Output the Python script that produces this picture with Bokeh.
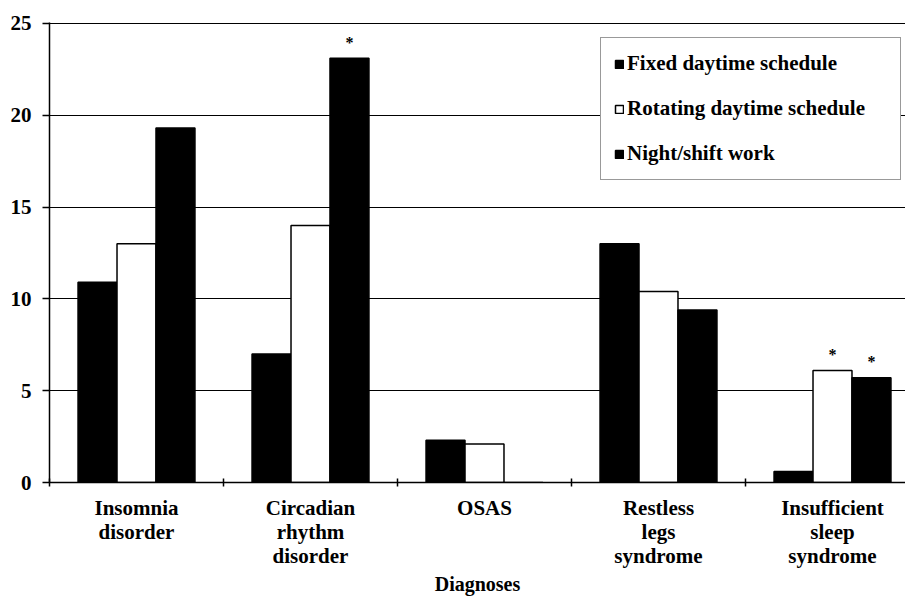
from bokeh.plotting import figure
from bokeh.models import Range1d, FixedTicker, Legend, LegendItem, ColumnDataSource
from bokeh.embed import file_html
from bokeh.resources import INLINE
from bokeh.core.properties import value

# ---- data ----
categories = ["Insomnia\ndisorder", "Circadian\nrhythm\ndisorder", "OSAS",
              "Restless\nlegs\nsyndrome", "Insufficient\nsleep\nsyndrome"]
fixed = [10.9, 7.0, 2.3, 13.0, 0.6]
rotating = [13.0, 14.0, 2.1, 10.4, 6.1]
night = [19.3, 23.1, 0.0, 9.4, 5.7]
series_names = ["Fixed daytime schedule", "Rotating daytime schedule", "Night/shift work"]
y_ticks = [0, 5, 10, 15, 20, 25]
# significance markers: (category index, series index)
sig_cat = [1, 4, 4]
sig_series = [2, 1, 2]

FONT = "'Liberation Serif', 'Times New Roman', Times, serif"
FS = "21px"

n = len(categories)
centers = [i + 1 for i in range(n)]
bw = 0.224
offsets = [-bw, 0.0, bw]
series = [fixed, rotating, night]
fills = ["black", "white", "black"]

FW = 856
p = figure(frame_width=FW, frame_height=460, output_backend="svg", toolbar_location=None,
           x_range=Range1d(0.5, 0.5 + FW / 174), y_range=Range1d(0, 25.05),
           min_border_left=49, min_border_right=0, min_border_top=22, min_border_bottom=0)
p.outline_line_color = None
p.background_fill_color = "white"

renderers = []
for vals, off, fc in zip(series, offsets, fills):
    src = ColumnDataSource(dict(x=[c + off for c in centers], top=vals))
    r = p.vbar(x="x", top="top", width=bw, source=src, fill_color=fc,
               line_color="black", line_width=1.5)
    renderers.append(r)

# asterisks
ax = [centers[c] + offsets[s] for c, s in zip(sig_cat, sig_series)]
ay = [series[s][c] for c, s in zip(sig_cat, sig_series)]
p.text(x=ax, y=ay, text=["*"] * len(ax), text_align="center", text_baseline="alphabetic",
       y_offset=-16, text_font=value(FONT), text_font_style="bold", text_font_size="16px",
       text_color="black")

# axes
xa = p.xaxis[0]
xa.ticker = FixedTicker(ticks=centers, minor_ticks=[c - 0.5 for c in centers] + [centers[-1] + 0.5])
xa.major_label_overrides = {c: lab for c, lab in zip(centers, categories)}
xa.major_tick_line_color = None
xa.major_tick_in = 0
xa.major_tick_out = 0
xa.minor_tick_in = 4
xa.minor_tick_out = 4
xa.minor_tick_line_color = "black"
xa.minor_tick_line_width = 1.5
xa.axis_line_color = "black"
xa.axis_line_width = 1.5
xa.major_label_standoff = 9
xa.major_label_text_font = FONT
xa.major_label_text_font_style = "bold"
xa.major_label_text_font_size = FS
xa.major_label_text_line_height = 1.0
xa.major_label_text_color = "black"
xa.axis_label = "Diagnoses"
xa.axis_label_text_font = FONT
xa.axis_label_text_font_style = "bold"
xa.axis_label_text_font_size = "20px"
xa.axis_label_text_color = "black"
xa.axis_label_standoff = 2

ya = p.yaxis[0]
ya.ticker = FixedTicker(ticks=y_ticks, minor_ticks=[])
ya.major_tick_in = 0
ya.major_tick_out = 7
ya.major_tick_line_color = "black"
ya.major_tick_line_width = 1.5
ya.axis_line_color = "black"
ya.axis_line_width = 1.5
ya.major_label_standoff = 11
ya.major_label_text_font = FONT
ya.major_label_text_font_style = "bold"
ya.major_label_text_font_size = FS
ya.major_label_text_color = "black"

p.xgrid.visible = False
p.ygrid.ticker = FixedTicker(ticks=y_ticks)
p.ygrid.grid_line_color = "black"
p.ygrid.grid_line_width = 1.2

legend = Legend(items=[LegendItem(label=nm, renderers=[r]) for nm, r in zip(series_names, renderers)],
                location=(551, 302), margin=0, padding=13, spacing=20,
                glyph_width=10, glyph_height=10, label_height=22, label_width=260, label_standoff=3,
                label_text_font=FONT, label_text_font_style="bold", label_text_font_size=FS,
                label_text_color="black", border_line_color="#333333", border_line_width=1.5,
                background_fill_color="white", background_fill_alpha=1.0)
p.add_layout(legend)

open("out.html", "w").write(file_html(p, INLINE))
